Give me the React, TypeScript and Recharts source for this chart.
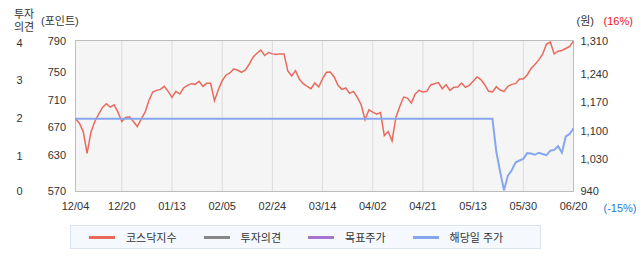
import React from 'react';
import { LineChart, Line, XAxis, YAxis, CartesianGrid, Legend, ReferenceArea } from 'recharts';

// Trading days (MM/DD)
const dates = [
  '12/04', '12/05', '12/06', '12/09', '12/10', '12/11', '12/12', '12/13', '12/16', '12/17',
  '12/18', '12/19', '12/20', '12/23', '12/24', '12/26', '12/27', '12/30',
  '01/02', '01/03', '01/06', '01/07', '01/08', '01/09', '01/10', '01/13',
  '01/14', '01/15', '01/16', '01/17', '01/20', '01/21', '01/22', '01/23', '01/24', '01/31',
  '02/03', '02/04', '02/05', '02/06', '02/07', '02/10', '02/11', '02/12', '02/13', '02/14',
  '02/17', '02/18', '02/19', '02/20', '02/21', '02/24', '02/25', '02/26', '02/27', '02/28',
  '03/04', '03/05', '03/06', '03/07', '03/10', '03/11', '03/12', '03/13', '03/14',
  '03/17', '03/18', '03/19', '03/20', '03/21', '03/24', '03/25', '03/26', '03/27', '03/28', '03/31',
  '04/01', '04/02', '04/03', '04/04', '04/07', '04/08', '04/09', '04/10', '04/11', '04/14',
  '04/15', '04/16', '04/17', '04/18', '04/21', '04/22', '04/23', '04/24', '04/25', '04/28',
  '04/29', '04/30', '05/02', '05/07', '05/08', '05/09', '05/12', '05/13',
  '05/14', '05/15', '05/16', '05/19', '05/20', '05/21', '05/22', '05/23', '05/26', '05/27',
  '05/28', '05/29', '05/30', '06/02', '06/04', '06/05', '06/09', '06/10', '06/11', '06/12',
  '06/13', '06/16', '06/17', '06/18', '06/19', '06/20',
];

// 코스닥지수 (포인트)
const kosdaqIndex = [
  675.9, 669.5, 657.3, 625.6, 656.4, 672.0, 682.7, 692.4, 697.8, 693.0,
  696.4, 685.6, 672.0, 677.8, 678.8, 672.0, 664.7, 675.4,
  685.1, 702.2, 714.9, 717.3, 718.8, 723.2, 715.9, 707.1,
  715.9, 712.0, 720.8, 724.7, 727.1, 726.1, 730.5, 723.2, 727.6, 727.6,
  702.2, 718.3, 731.5, 739.8, 742.7, 748.6, 746.6, 743.7, 747.1, 755.4,
  765.7, 771.5, 775.9, 768.1, 772.5, 770.5, 769.6, 770.5, 770.5, 745.7,
  738.3, 746.1, 733.5, 727.1, 723.2, 719.8, 728.1, 722.2, 734.4,
  743.7, 744.2, 736.9, 724.7, 718.8, 720.8, 713.0, 715.9, 707.1, 696.4, 674.4,
  689.0, 685.6, 682.7, 685.1, 651.5, 657.3, 643.7, 678.3, 693.9, 707.6,
  706.1, 698.8, 712.0, 717.4, 715.0, 715.9, 725.2, 727.1, 728.6, 719.8,
  725.6, 717.4, 721.8, 722.2, 728.1, 721.8, 724.7, 730.5,
  736.9, 733.0, 725.6, 715.9, 714.9, 722.7, 717.8, 715.9, 723.2, 726.1,
  727.1, 733.9, 733.9, 739.8, 749.1, 754.9, 761.8, 770.0, 784.7, 787.6,
  770.5, 774.4, 775.4, 778.3, 781.3, 789.1,
];

// 해당일 주가 (원)
const stockPrice = [
  1118, 1118, 1118, 1118, 1118, 1118, 1118, 1118, 1118, 1118,
  1118, 1118, 1118, 1118, 1118, 1118, 1118, 1118,
  1118, 1118, 1118, 1118, 1118, 1118, 1118, 1118,
  1118, 1118, 1118, 1118, 1118, 1118, 1118, 1118, 1118, 1118,
  1118, 1118, 1118, 1118, 1118, 1118, 1118, 1118, 1118, 1118,
  1118, 1118, 1118, 1118, 1118, 1118, 1118, 1118, 1118, 1118,
  1118, 1118, 1118, 1118, 1118, 1118, 1118, 1118, 1118,
  1118, 1118, 1118, 1118, 1118, 1118, 1118, 1118, 1118, 1118, 1118,
  1118, 1118, 1118, 1118, 1118, 1118, 1118, 1118, 1118, 1118,
  1118, 1118, 1118, 1118, 1118, 1118, 1118, 1118, 1118, 1118,
  1118, 1118, 1118, 1118, 1118, 1118, 1118, 1118,
  1118, 1118, 1118, 1118, 1118, 1038, 988, 943, 979, 992,
  1011, 1016, 1020, 1034, 1033, 1030, 1035, 1032, 1029, 1040,
  1042, 1051, 1035, 1075, 1081, 1095,
];

const xTickDates = ['12/04', '12/20', '01/13', '02/05', '02/24', '03/14', '04/02', '04/21', '05/13', '05/30', '06/20'];
const pointTicks = [570, 630, 670, 710, 750, 790];
const wonTicks = [940, 1030, 1100, 1170, 1240, 1310];
const opinionTicks = [0, 1, 2, 3, 4];
const seriesNames = ['코스닥지수', '투자의견', '목표주가', '해당일 주가'];

const data = dates.map((date, idx) => ({
  idx,
  date,
  kosdaq: kosdaqIndex[idx],
  price: stockPrice[idx],
}));
const xTicks = xTickDates.map((d) => dates.indexOf(d));
const lastIdx = dates.length - 1;

const FONT = "'Liberation Sans', 'Noto Sans CJK KR', sans-serif";
const TEXT = '#333';
const RED = '#e96a5c';
const BLUE = '#86a7ee';
const GRAY = '#888888';
const PURPLE = '#a675cf';

const XTick = (props: any) => {
  const { x, y, payload } = props;
  return (
    <text x={x} y={y + 18} textAnchor="middle" fontSize={11} fill={TEXT} fontFamily={FONT}>
      {dates[payload.value]}
    </text>
  );
};

// value labels sit just below their gridline, except the end labels
const makeValueTick = (ticks: number[], anchor: 'start' | 'end', fmt: (v: number) => string) => (props: any) => {
  const { x, y, payload } = props;
  const v = payload.value;
  const isEdge = v === ticks[0] || v === ticks[ticks.length - 1];
  const shift = isEdge ? (v === ticks[0] ? -0.5 : 0.3) : 4.5;
  return (
    <text x={x} y={y + shift + 4} textAnchor={anchor} fontSize={11} fill={TEXT} fontFamily={FONT}>
      {fmt(v)}
    </text>
  );
};

const PointTick = makeValueTick(pointTicks, 'end', (v) => String(v));
const WonTick = makeValueTick(wonTicks, 'start', (v) => v.toLocaleString('en-US'));

const OpinionTick = (props: any) => {
  const { x, y, payload } = props;
  const shift = payload.value === 0 ? -0.5 : 2;
  return (
    <text x={x} y={y + shift + 4} textAnchor="end" fontSize={11} fill={TEXT} fontFamily={FONT}>
      {payload.value}
    </text>
  );
};

const OpinionCaption = (props: any) => {
  const vb = props.viewBox || { x: 0, y: 40.5, width: 38, height: 151 };
  const cx = vb.x + 24;
  return (
    <g fontFamily={FONT} fontSize={11} fill={TEXT}>
      <text x={cx} y={vb.y - 23} textAnchor="middle">투자</text>
      <text x={cx} y={vb.y - 10} textAnchor="middle">의견</text>
    </g>
  );
};

const PointCaption = (props: any) => {
  const vb = props.viewBox || { x: 38, y: 40.5, width: 37.5, height: 151 };
  return (
    <text x={vb.x + 3} y={vb.y - 16} fontFamily={FONT} fontSize={11} fill={TEXT}>
      (포인트)
    </text>
  );
};

const WonCaption = (props: any) => {
  const vb = props.viewBox || { x: 573.5, y: 40.5, width: 68.5, height: 151 };
  return (
    <g fontFamily={FONT} fontSize={11}>
      <text x={vb.x + 3} y={vb.y - 16} fill={TEXT}>(원)</text>
      <text x={vb.x + 30} y={vb.y - 16} fill="#e8141b">(16%)</text>
      <text x={vb.x + 30} y={vb.y + vb.height + 20} fill="#2a78dc">(-15%)</text>
    </g>
  );
};

const LegendBox = (props: any) => {
  const payload = [...(props.payload || [])].sort(
    (a: any, b: any) => seriesNames.indexOf(a.value) - seriesNames.indexOf(b.value),
  );
  return (
    <div
      style={{
        boxSizing: 'border-box',
        marginLeft: 70,
        width: 471,
        height: 24,
        paddingLeft: 18,
        border: '1px solid #dbe4ee',
        background: '#f5f9fd',
        display: 'flex',
        alignItems: 'center',
        justifyContent: 'flex-start',
        fontFamily: FONT,
        fontSize: 11,
        color: TEXT,
      }}
    >
      {payload.map((entry: any, k: number) => (
        <div key={entry.value} style={{ display: 'flex', alignItems: 'center', marginLeft: k ? 27 : 0 }}>
          <span style={{ display: 'inline-block', width: 26, height: 3, background: entry.color, marginRight: 11 }} />
          <span>{entry.value}</span>
        </div>
      ))}
    </div>
  );
};

export default function App() {
  return (
    <div style={{ position: 'absolute', left: 0, top: 0, width: 642, height: 268, background: '#fff' }}>
      <LineChart width={642} height={268} data={data} margin={{ top: 40.5, right: 0, bottom: 56.5, left: 0 }}>
        <CartesianGrid yAxisId="point" horizontal={false} stroke="#dcdcdc" fill="#f5f5f5" fillOpacity={1} />
        <XAxis
          dataKey="idx"
          type="number"
          domain={[0, lastIdx]}
          ticks={xTicks}
          interval={0}
          height={20}
          axisLine={false}
          tickLine={false}
          tickSize={0}
          tickMargin={0}
          tick={<XTick />}
        />
        <YAxis
          yAxisId="point"
          orientation="left"
          width={37.5}
          domain={[570, 790]}
          allowDataOverflow
          ticks={pointTicks}
          interval={0}
          axisLine={false}
          tickLine={false}
          tickSize={0}
          tickMargin={9.5}
          tick={<PointTick />}
          label={<PointCaption />}
        />
        <YAxis
          yAxisId="rating"
          orientation="left"
          width={38}
          domain={[0, 4]}
          allowDataOverflow
          ticks={opinionTicks}
          interval={0}
          axisLine={false}
          tickLine={false}
          tickSize={0}
          tickMargin={15.5}
          tick={<OpinionTick />}
          label={<OpinionCaption />}
        />
        <YAxis
          yAxisId="won"
          orientation="right"
          width={68.5}
          domain={[940, 1310]}
          allowDataOverflow
          ticks={wonTicks}
          interval={0}
          axisLine={false}
          tickLine={false}
          tickSize={0}
          tickMargin={7}
          tick={<WonTick />}
          label={<WonCaption />}
        />
        <ReferenceArea yAxisId="point" x1={0} x2={lastIdx} y1={570} y2={790} fill="none" stroke="#bdbdbd" strokeWidth={1} />
        <Line
          yAxisId="point"
          type="linear"
          dataKey="kosdaq"
          name="코스닥지수"
          stroke={RED}
          strokeWidth={1.5}
          dot={false}
          activeDot={false}
          isAnimationActive={false}
        />
        <Line
          yAxisId="rating"
          type="linear"
          dataKey="opinion"
          name="투자의견"
          stroke={GRAY}
          strokeWidth={1.5}
          dot={false}
          activeDot={false}
          isAnimationActive={false}
        />
        <Line
          yAxisId="won"
          type="linear"
          dataKey="target"
          name="목표주가"
          stroke={PURPLE}
          strokeWidth={1.5}
          dot={false}
          activeDot={false}
          isAnimationActive={false}
        />
        <Line
          yAxisId="won"
          type="linear"
          dataKey="price"
          name="해당일 주가"
          stroke={BLUE}
          strokeWidth={2}
          dot={false}
          activeDot={false}
          isAnimationActive={false}
        />
        <Legend
          layout="horizontal"
          align="center"
          verticalAlign="middle"
          content={<LegendBox />}
          wrapperStyle={{ left: 0, top: 225, width: 642, height: 24 }}
        />
      </LineChart>
    </div>
  );
}
